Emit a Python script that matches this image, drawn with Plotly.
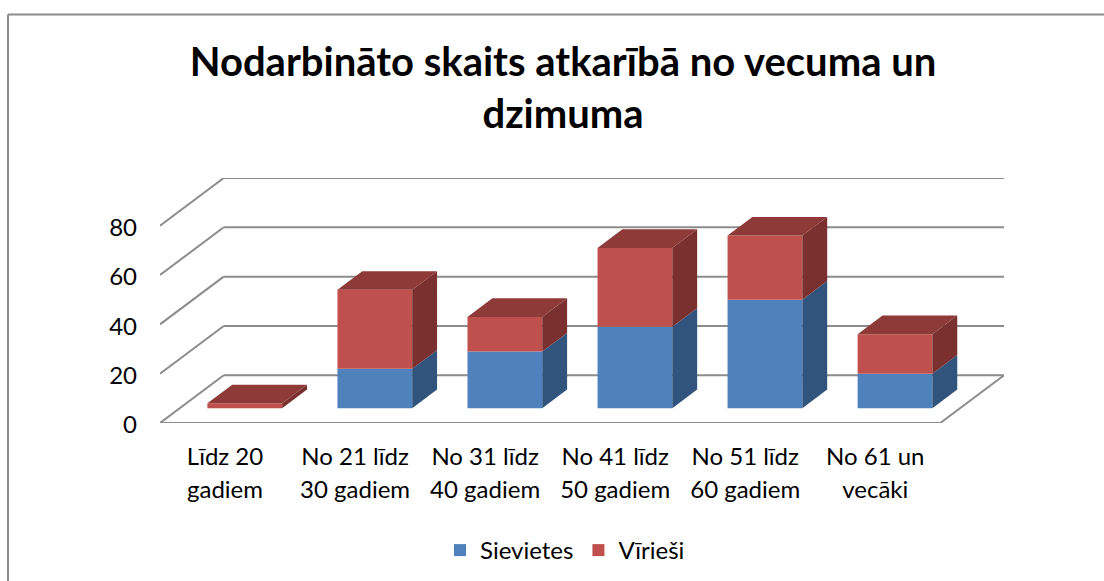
import plotly.graph_objects as go

title_lines = ["Nodarbināto skaits atkarībā no vecuma un", "dzimuma"]
categories = [["Līdz 20", "gadiem"], ["No 21 līdz", "30 gadiem"], ["No 31 līdz", "40 gadiem"],
              ["No 41 līdz", "50 gadiem"], ["No 51 līdz", "60 gadiem"], ["No 61 un", "vecāki"]]
sievietes = [0, 16, 23, 33, 44, 14]
virieši = [2, 32, 14, 32, 26, 16]
y_ticks = [0, 20, 40, 60, 80]

BLUE, BLUE_SIDE = "#4F81BD", "#31547D"
RED, RED_SIDE, RED_TOP = "#C0504D", "#7A302E", "#8E3A38"
GRID = "#8C8C8C"
FONT = "Lato"
W, H = 1104, 581
ML, MR, MT, MB = 160, 100, 178, 158

# oblique projection of the 3-D chart box, in axis units
DX, DY = 0.49, 19.35       # full depth of the box
D0, D1 = 0.31, 0.70        # depth span of the bars
BW = 0.575
xs = list(range(len(categories)))
X0, X1 = -0.5, len(categories) - 0.5


def side(i, lo, hi):
    r = i + BW / 2 + D0 * DX
    d = (D1 - D0)
    return ([r, r + d * DX, r + d * DX, r, r, None],
            [lo + D0 * DY, lo + D1 * DY, hi + D1 * DY, hi + D0 * DY, lo + D0 * DY, None])


def top(i, v):
    l = i - BW / 2 + D0 * DX
    r = i + BW / 2 + D0 * DX
    d = (D1 - D0)
    return ([l, r, r + d * DX, l + d * DX, l, None],
            [v + D0 * DY, v + D0 * DY, v + D1 * DY, v + D1 * DY, v + D0 * DY, None])


def collect(parts):
    px, py = [], []
    for a, b in parts:
        px += a
        py += b
    return px, py


totals = [a + b for a, b in zip(sievietes, virieši)]
fig = go.Figure()
fig.add_bar(name="Sievietes", x=[i + D0 * DX for i in xs], y=sievietes,
            base=[D0 * DY] * len(xs), width=BW, marker=dict(color=BLUE, line_width=0), hoverinfo="y")
fig.add_bar(name="Vīrieši", x=[i + D0 * DX for i in xs], y=virieši,
            base=[s + D0 * DY for s in sievietes], width=BW, marker=dict(color=RED, line_width=0), hoverinfo="y")

for parts, col in [
    ([side(i, 0, sievietes[i]) for i in xs if sievietes[i] > 0], BLUE_SIDE),
    ([side(i, sievietes[i], totals[i]) for i in xs], RED_SIDE),
    ([top(i, totals[i]) for i in xs], RED_TOP),
]:
    px, py = collect(parts)
    fig.add_scatter(x=px, y=py, mode="lines", fill="toself", fillcolor=col, line=dict(width=0, color=col),
                    showlegend=False, hoverinfo="skip")

shapes = []
line = dict(color=GRID, width=2)
for v in y_ticks:
    shapes.append(dict(type="line", xref="x", yref="y", layer="below", line=line,
                       x0=X0, y0=v, x1=X0 + DX, y1=v + DY))
    shapes.append(dict(type="line", xref="x", yref="y", layer="below", line=line,
                       x0=X0 + DX, y0=v + DY, x1=X1 + DX, y1=v + DY))
shapes.append(dict(type="line", xref="x", yref="y", layer="below", line=line, x0=X0, y0=0, x1=X1, y1=0))
shapes.append(dict(type="line", xref="x", yref="y", layer="below", line=line, x0=X1, y0=0, x1=X1 + DX, y1=DY))

# outer chart border: runs off the right and bottom of the picture
pw, ph = W - ML - MR, H - MT - MB
bx = (8 - ML) / pw
by = 1 - (14.5 - MT) / ph
by_end = 1 - (H + 5 - MT) / ph
border = dict(color="#8C8C8C", width=2)
shapes.append(dict(type="line", xref="paper", yref="paper", line=border, x0=bx, x1=bx, y0=by_end, y1=by))
shapes.append(dict(type="line", xref="paper", yref="paper", line=border, x0=bx, x1=(W + 5 - ML) / pw, y0=by, y1=by))

LAB = 24
ticktext = ["<br>".join(f'<span style="font-size:{LAB}px">{p}</span>' for p in c) for c in categories]
title = "<br>".join(title_lines)

fig.update_layout(
    width=W, height=H, autosize=False, margin=dict(l=ML, r=MR, t=MT, b=MB),
    paper_bgcolor="white", plot_bgcolor="rgba(0,0,0,0)", barmode="overlay",
    font=dict(family=FONT, color="black"),
    title=dict(text=title, font=dict(family=FONT, size=40, weight="bold", color="black"),
               x=563 / W, xanchor="center", y=1 - 76 / H, yanchor="top", yref="container"),
    xaxis=dict(range=[X0, X1 + DX], tickmode="array", tickvals=xs, ticktext=ticktext, showgrid=False,
               zeroline=False, showline=False, ticks="", tickfont=dict(size=25.4, family=FONT), ticklabelstandoff=16),
    yaxis=dict(range=[0, 80 + DY], tickmode="array", tickvals=y_ticks, showgrid=False, zeroline=False,
               showline=False, ticks="", tickfont=dict(size=LAB, family=FONT), ticklabelstandoff=22,
               ticklabelshift=2),
    legend=dict(orientation="h", xref="container", x=440 / W, xanchor="left", yref="container", y=1 - 528 / H,
                yanchor="top", font=dict(size=LAB, family=FONT), itemwidth=30, traceorder="normal"),
    shapes=shapes,
)
fig.write_html("out.html", config=dict(displayModeBar=False),
               post_script="document.body.style.margin='0';document.body.style.overflow='hidden';")
